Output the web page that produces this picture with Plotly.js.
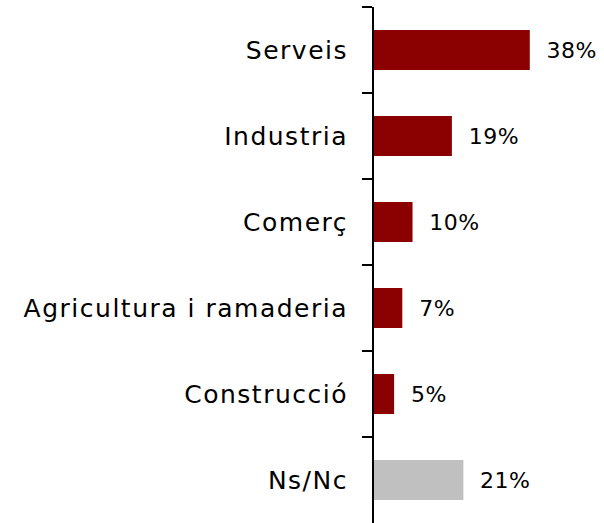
<!DOCTYPE html>
<html>
<head>
<meta charset="utf-8">
<script src="https://cdn.plot.ly/plotly-3.0.1.min.js"></script>
<style>
html,body{margin:0;padding:0;background:#fff;}
#chart{width:604px;height:523px;}
#chart .ytick text{letter-spacing:1.5px;}
#chart .bartext{letter-spacing:0.5px;}
</style>
</head>
<body>
<div id="chart"></div>
<script>
const categories = ["Serveis", "Industria", "Comerç", "Agricultura i ramaderia", "Construcció", "Ns/Nc"];
const values = [38, 19, 9.4, 6.9, 4.9, 21.8];
const labels = ["38%", "19%", "10%", "7%", "5%", "21%"];
const colors = ["#8B0000", "#8B0000", "#8B0000", "#8B0000", "#8B0000", "#C0C0C0"];

const font = "'DejaVu Sans', sans-serif";
const trace = {
  type: "bar",
  orientation: "h",
  y: categories,
  x: values,
  text: labels.map(l => "  " + l),
  textposition: "outside",
  cliponaxis: false,
  textfont: {family: font, size: 22, color: "#000"},
  marker: {color: colors},
  width: 0.465,
  hoverinfo: "none"
};
const layout = {
  width: 604, height: 523,
  margin: {l: 374, r: 25, t: 7, b: 0, pad: 0},
  paper_bgcolor: "#fff", plot_bgcolor: "#fff",
  showlegend: false,
  xaxis: {range: [0, 50], visible: false, fixedrange: true},
  yaxis: {
    type: "category",
    autorange: "reversed",
    showline: true, linecolor: "#000", linewidth: 2,
    ticks: "outside", tickson: "boundaries", ticklen: 10, tickwidth: 2, tickcolor: "#000",
    showgrid: false,
    tickfont: {family: font, size: 25, color: "#000"},
    ticklabelstandoff: 19
  }
};
Plotly.newPlot("chart", [trace], layout, {displayModeBar: false, staticPlot: true});
</script>
</body>
</html>
